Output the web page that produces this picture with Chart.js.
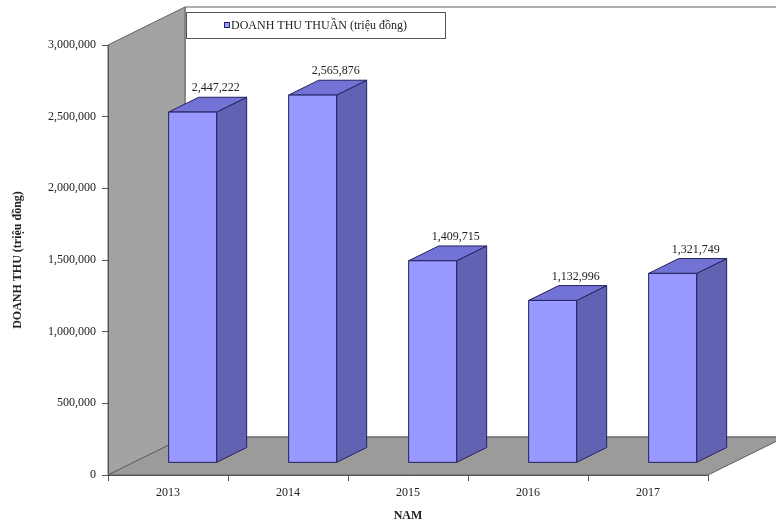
<!DOCTYPE html>
<html>
<head>
<meta charset="utf-8">
<script src="https://cdn.jsdelivr.net/npm/chart.js@4.4.0/dist/chart.umd.min.js"></script>
<style>
  html, body { margin: 0; padding: 0; background: #fff; }
</style>
</head>
<body>
<canvas id="revenueChart" width="776" height="529"></canvas>
<script>
// Doanh thu thuần theo năm
var years = ['2013', '2014', '2015', '2016', '2017'];
var revenue = [2447222, 2565876, 1409715, 1132996, 1321749];
var seriesLabel = 'DOANH THU THUẦN (triệu đồng)';
var yMax = 3000000;
var yStep = 500000;

// 3D look: full depth of the box and where the bars sit inside it
var DEPTH_X = 77, DEPTH_Y = -38;
var BAR_FRONT = 0.32, BAR_BACK = 0.71;

var FONT = '"Liberation Serif", "Times New Roman", serif';
var frontColor = '#9999ff', topColor = '#7373d6', sideColor = '#6262b3', edgeColor = '#22225e';

function fmt(v) {
    return Number(v).toLocaleString('en-US');
}

function poly(ctx, pts, fill, stroke) {
    ctx.beginPath();
    ctx.moveTo(pts[0][0], pts[0][1]);
    for (var i = 1; i < pts.length; i++) ctx.lineTo(pts[i][0], pts[i][1]);
    ctx.closePath();
    ctx.fillStyle = fill;
    ctx.fill();
    if (stroke) {
        ctx.strokeStyle = stroke;
        ctx.lineWidth = 1;
        ctx.stroke();
    }
}

// walls and floor behind the bars
var wallsPlugin = {
    id: 'walls3d',
    beforeDraw: function(chart) {
        var ctx = chart.ctx, a = chart.chartArea;
        ctx.save();
        // back wall
        poly(ctx, [[a.left + DEPTH_X, a.top + DEPTH_Y], [a.right + DEPTH_X, a.top + DEPTH_Y],
                   [a.right + DEPTH_X, a.bottom + DEPTH_Y], [a.left + DEPTH_X, a.bottom + DEPTH_Y]], '#ffffff', '#606060');
        // side wall
        poly(ctx, [[a.left, a.top], [a.left + DEPTH_X, a.top + DEPTH_Y],
                   [a.left + DEPTH_X, a.bottom + DEPTH_Y], [a.left, a.bottom]], '#a3a3a3', '#606060');
        // floor
        poly(ctx, [[a.left, a.bottom], [a.right, a.bottom],
                   [a.right + DEPTH_X, a.bottom + DEPTH_Y], [a.left + DEPTH_X, a.bottom + DEPTH_Y]], '#9b9b9b', '#606060');
        ctx.restore();
    },
    afterDraw: function(chart) {
        // legend box
        var ctx = chart.ctx;
        ctx.save();
        ctx.fillStyle = '#ffffff';
        ctx.fillRect(186, 12, 259, 26);
        ctx.strokeStyle = '#555555';
        ctx.lineWidth = 1;
        ctx.strokeRect(186.5, 12.5, 259, 26);
        ctx.fillStyle = frontColor;
        ctx.fillRect(224, 22, 6, 6);
        ctx.strokeStyle = edgeColor;
        ctx.strokeRect(224.5, 22.5, 5, 5);
        ctx.fillStyle = '#222';
        ctx.font = '12px ' + FONT;
        ctx.textBaseline = 'middle';
        ctx.textAlign = 'left';
        ctx.fillText(seriesLabel, 231, 26);
        ctx.restore();
    }
};

// draws each bar as a box using the bar element's position
var boxPlugin = {
    id: 'box3d',
    beforeDatasetDraw: function(chart, args) {
        var ctx = chart.ctx;
        var dx = (BAR_BACK - BAR_FRONT) * DEPTH_X;
        var dy = (BAR_BACK - BAR_FRONT) * DEPTH_Y;
        ctx.save();
        args.meta.data.forEach(function(bar, i) {
            var x0 = bar.x - bar.width / 2 + BAR_FRONT * DEPTH_X;
            var x1 = x0 + bar.width;
            var top = bar.y + BAR_FRONT * DEPTH_Y;
            var bottom = bar.base + BAR_FRONT * DEPTH_Y;
            poly(ctx, [[x1, top], [x1 + dx, top + dy], [x1 + dx, bottom + dy], [x1, bottom]], sideColor, edgeColor);
            poly(ctx, [[x0, top], [x0 + dx, top + dy], [x1 + dx, top + dy], [x1, top]], topColor, edgeColor);
            poly(ctx, [[x0, top], [x1, top], [x1, bottom], [x0, bottom]], frontColor, edgeColor);

            ctx.fillStyle = '#222';
            ctx.font = '12px ' + FONT;
            ctx.textAlign = 'center';
            ctx.textBaseline = 'middle';
            ctx.fillText(fmt(revenue[i]), x1 - 1, top - 24);
        });
        ctx.restore();
        return false;
    }
};

var ctx = document.getElementById('revenueChart').getContext('2d');
var revenueChart = new Chart(ctx, {
    type: 'bar',
    data: {
        labels: years,
        datasets: [{
            label: seriesLabel,
            data: revenue,
            backgroundColor: frontColor,
            borderColor: edgeColor,
            barPercentage: 0.4,
            categoryPercentage: 1
        }]
    },
    options: {
        responsive: false,
        animation: false,
        layout: { padding: { top: 45, right: 68, left: 0, bottom: 0 } },
        plugins: {
            legend: { display: false },
            tooltip: { enabled: false }
        },
        scales: {
            x: {
                grid: { drawOnChartArea: false, offset: true, tickLength: 6, color: '#555' },
                border: { color: '#555' },
                ticks: { padding: 5, color: '#222', font: { family: FONT, size: 12 } },
                title: {
                    display: true,
                    text: 'NAM',
                    color: '#222',
                    font: { family: FONT, size: 12, weight: 'bold' },
                    padding: { top: 0, bottom: 6 }
                },
                afterFit: function(scale) { scale.height = 54; }
            },
            y: {
                min: 0,
                max: yMax,
                grid: { drawOnChartArea: false, tickLength: 6, color: '#555' },
                border: { color: '#555' },
                ticks: {
                    stepSize: yStep,
                    padding: 6,
                    color: '#222',
                    font: { family: FONT, size: 12 },
                    callback: function(v) { return fmt(v); }
                },
                title: {
                    display: true,
                    text: 'DOANH THU (triệu đồng)',
                    color: '#222',
                    font: { family: FONT, size: 12, weight: 'bold' },
                    padding: { top: 11, bottom: 0 }
                },
                afterFit: function(scale) { scale.width = 108; }
            }
        }
    },
    plugins: [wallsPlugin, boxPlugin]
});
</script>
</body>
</html>
